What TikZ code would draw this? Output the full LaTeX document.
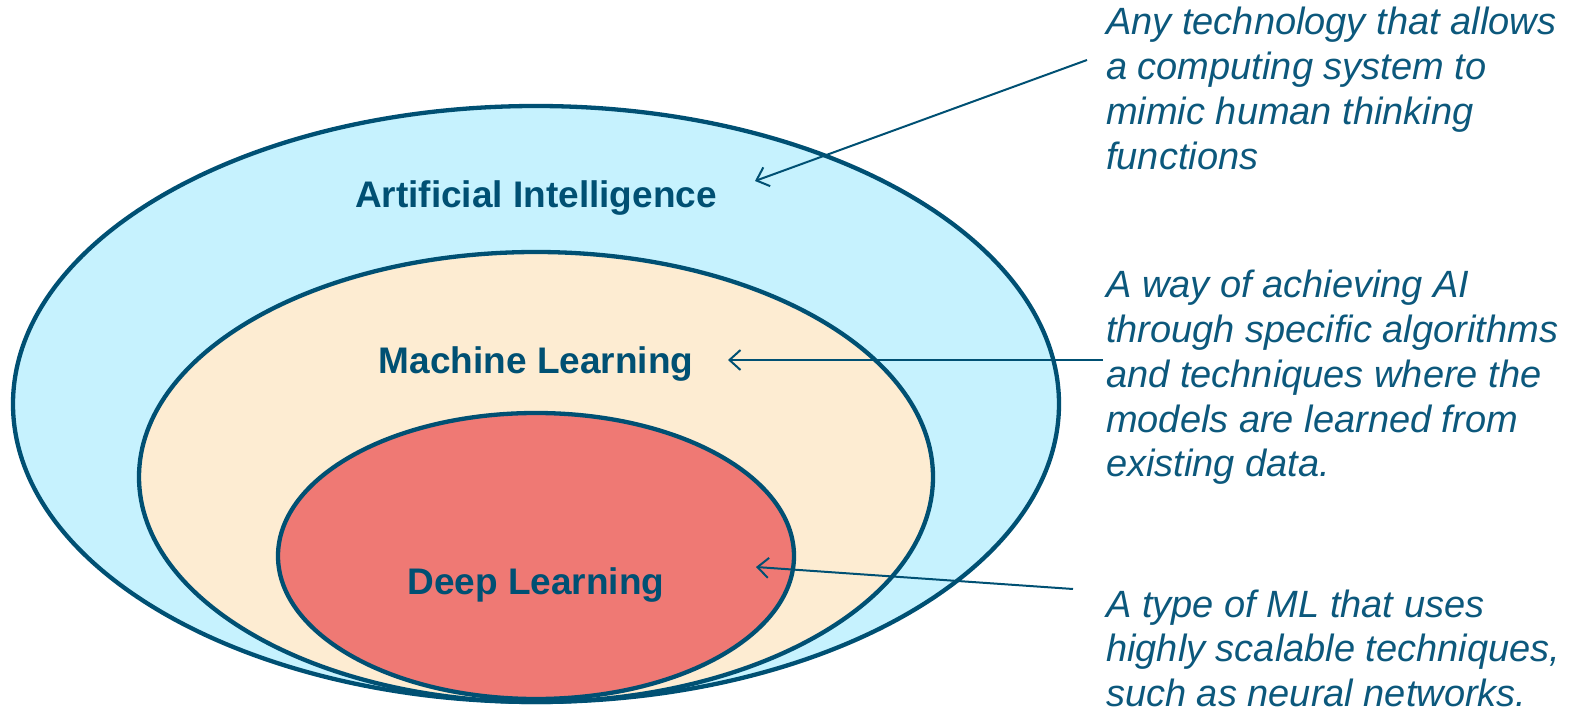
\documentclass[tikz,border=0pt]{standalone}
\usepackage{fontspec}
\setmainfont{Liberation Sans}
\usetikzlibrary{arrows.meta}
\definecolor{cdark}{RGB}{0,80,115}
\definecolor{ctext}{RGB}{12,88,124}
\definecolor{cai}{RGB}{198,242,254}
\definecolor{cml}{RGB}{253,236,210}
\definecolor{cdl}{RGB}{239,121,116}
\tikzset{
  ring/.style={draw=cdark, line width=4.3pt},
  biglabel/.style={font=\fontsize{37}{44}\selectfont\bfseries, text=cdark, anchor=base, inner sep=0pt},
  note/.style={font=\fontsize{38}{44.7}\selectfont\itshape, text=ctext, anchor=base west, inner sep=0pt},
  pointer/.style={draw=cdark, line width=2pt, -{Straight Barb[length=11pt,width=20pt,line width=2pt]}}
}
\newcommand{\notelines}[1]{\vtop{\baselineskip=44.7pt\lineskiplimit=-100pt #1}}
\begin{document}
\begin{tikzpicture}[x=1pt,y=1pt]
\useasboundingbox (0,0) rectangle (1575,-708);
% ellipses
\path[ring, fill=cai] (536,-404) ellipse [x radius=523, y radius=298];
\path[ring, fill=cml] (536,-477) ellipse [x radius=397, y radius=225];
\path[ring, fill=cdl] (536,-556) ellipse [x radius=258, y radius=143];
% labels
\node[biglabel] (ai) at (536,-208) {Artificial Intelligence};
\node[biglabel] (ml) at (536,-374) {Machine Learning};
\node[biglabel] (dl) at (536,-594) {Deep Learning};
% notes
\node[note] (nai) at (1106,-35) {\notelines{\hbox{Any technology that allows}\hbox{a computing system to}\hbox{mimic human thinking}\hbox{functions}}};
\node[note] (nml) at (1106,-298) {\notelines{\hbox{A way of achieving AI}\hbox{through specific algorithms}\hbox{and techniques where the}\hbox{models are learned from}\hbox{existing data.}}};
\node[note] (ndl) at (1106,-617) {\notelines{\hbox{A type of ML that uses}\hbox{highly scalable techniques,}\hbox{such as neural networks.}}};
% arrow ends
\coordinate (sai) at (1087,-60);
\coordinate (tai) at (755,-181);
\coordinate (sml) at (1103,-360);
\coordinate (tml) at (728,-360);
\coordinate (sdl) at (1073,-589);
\coordinate (tdl) at (756,-567);
\draw[pointer] (sai) -- (tai);
\draw[pointer] (sml) -- (tml);
\draw[pointer] (sdl) -- (tdl);
\end{tikzpicture}
\end{document}
